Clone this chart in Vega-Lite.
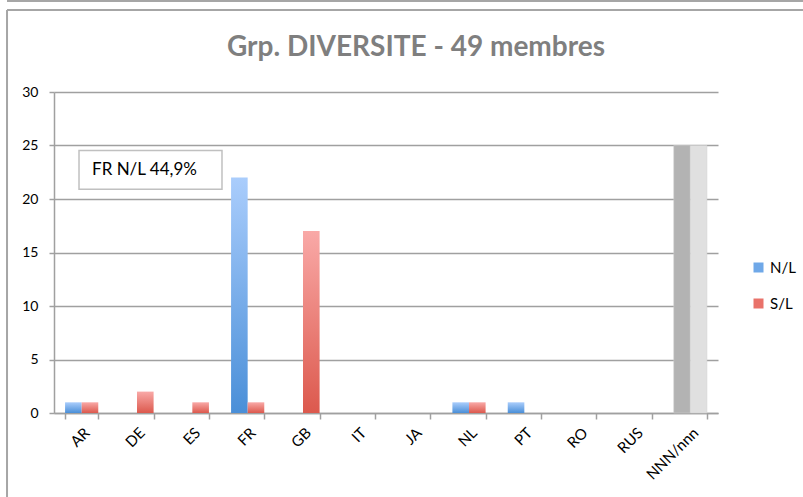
{
  "$schema": "https://vega.github.io/schema/vega-lite/v6.json",
  "width": 664,
  "height": 321,
  "autosize": {"type": "none"},
  "padding": {"left": 54, "top": 92, "right": 85, "bottom": 84},
  "background": "white",
  "title": {
    "text": "Grp. DIVERSITE - 49 membres",
    "font": "Lato",
    "fontSize": 28,
    "fontWeight": "bold",
    "color": "#7f7f7f",
    "anchor": "middle",
    "frame": "group",
    "baseline": "alphabetic",
    "offset": -84,
    "dx": 30
  },
  "config": {
    "font": "Lato",
    "view": {"stroke": null},
    "legend": {
      "symbolType": "square",
      "symbolSize": 100,
      "symbolOpacity": 1,
      "symbolStrokeWidth": 0,
      "labelFontSize": 15,
      "labelFont": "Lato",
      "labelColor": "#000000",
      "rowPadding": 20,
      "labelOffset": 4
    }
  },
  "datasets": {
    "bars": [
      {"cat": "AR", "serie": "N/L", "value": 1},
      {"cat": "AR", "serie": "S/L", "value": 1},
      {"cat": "DE", "serie": "N/L", "value": 0},
      {"cat": "DE", "serie": "S/L", "value": 2},
      {"cat": "ES", "serie": "N/L", "value": 0},
      {"cat": "ES", "serie": "S/L", "value": 1},
      {"cat": "FR", "serie": "N/L", "value": 22},
      {"cat": "FR", "serie": "S/L", "value": 1},
      {"cat": "GB", "serie": "N/L", "value": 0},
      {"cat": "GB", "serie": "S/L", "value": 17},
      {"cat": "IT", "serie": "N/L", "value": 0},
      {"cat": "IT", "serie": "S/L", "value": 0},
      {"cat": "JA", "serie": "N/L", "value": 0},
      {"cat": "JA", "serie": "S/L", "value": 0},
      {"cat": "NL", "serie": "N/L", "value": 1},
      {"cat": "NL", "serie": "S/L", "value": 1},
      {"cat": "PT", "serie": "N/L", "value": 1},
      {"cat": "PT", "serie": "S/L", "value": 0},
      {"cat": "RO", "serie": "N/L", "value": 0},
      {"cat": "RO", "serie": "S/L", "value": 0},
      {"cat": "RUS", "serie": "N/L", "value": 0},
      {"cat": "RUS", "serie": "S/L", "value": 0},
      {"cat": "NNN/nnn", "serie": "N/L", "value": 25},
      {"cat": "NNN/nnn", "serie": "S/L", "value": 25}
    ],
    "note": [
      {"x0": 0.452, "x1": 3.036, "y0": 20.9, "y1": 24.53, "tx": 0.687, "ty": 22.7, "label": "FR N/L 44,9%"}
    ],
    "frame": [
      {"x0": -0.849, "x1": 13.6, "y0": 38.5, "y1": 38.5},
      {"x0": -0.849, "x1": 13.6, "y0": 37.66, "y1": 37.66},
      {"x0": -0.849, "x1": -0.849, "y0": 37.66, "y1": -8}
    ]
  },
  "resolve": {"scale": {"x": "independent"}},
  "layer": [
    {
      "data": {"name": "bars"},
      "encoding": {
        "x": {
          "field": "cat",
          "type": "nominal",
          "sort": ["AR", "DE", "ES", "FR", "GB", "IT", "JA", "NL", "PT", "RO", "RUS", "NNN/nnn"],
          "scale": {"paddingInner": 0.4, "paddingOuter": 0.2},
          "axis": {
            "title": null,
            "labelAngle": -45,
            "labelFontSize": 15,
            "labelColor": "#000000",
            "labelPadding": 6,
            "tickBand": "extent",
            "tickSize": 6,
            "tickColor": "#a0a0a0",
            "domainColor": "#a0a0a0",
            "domainWidth": 1.5,
            "tickWidth": 1.5
          }
        },
        "xOffset": {
          "field": "serie",
          "type": "nominal",
          "scale": {"domain": ["N/L", "S/L"], "paddingInner": 0, "paddingOuter": 0}
        },
        "y": {
          "field": "value",
          "type": "quantitative",
          "scale": {"domain": [0, 30]},
          "axis": {
            "title": null,
            "values": [0, 5, 10, 15, 20, 25, 30],
            "labelFontSize": 14,
            "labelColor": "#000000",
            "labelPadding": 11,
            "tickSize": 5,
            "tickColor": "#a0a0a0",
            "tickWidth": 1.5,
            "domainColor": "#a0a0a0",
            "domainWidth": 1.5,
            "gridColor": "#a0a0a0",
            "gridWidth": 1.5
          }
        }
      },
      "layer": [
        {
          "transform": [{"filter": "datum.serie === 'N/L' && datum.cat !== 'NNN/nnn'"}],
          "mark": {
            "type": "bar",
            "color": {
              "gradient": "linear", "x1": 0, "y1": 0, "x2": 0, "y2": 1,
              "stops": [{"offset": 0, "color": "#aacdfc"}, {"offset": 1, "color": "#4a8fd8"}]
            }
          }
        },
        {
          "transform": [{"filter": "datum.serie === 'S/L' && datum.cat !== 'NNN/nnn'"}],
          "mark": {
            "type": "bar",
            "color": {
              "gradient": "linear", "x1": 0, "y1": 0, "x2": 0, "y2": 1,
              "stops": [{"offset": 0, "color": "#f9a9a7"}, {"offset": 1, "color": "#dc594d"}]
            }
          }
        },
        {
          "transform": [{"filter": "datum.cat === 'NNN/nnn'"}],
          "mark": {"type": "bar", "stroke": "#d0d0d0", "strokeWidth": 0.5},
          "encoding": {
            "color": {
              "condition": {"test": "datum.serie === 'N/L'", "value": "#b3b3b3"},
              "value": "#e0e0e0"
            }
          }
        },
        {
          "transform": [{"filter": "datum.cat !== 'NNN/nnn'"}],
          "mark": {"type": "square", "opacity": 0},
          "encoding": {
            "color": {
              "field": "serie",
              "type": "nominal",
              "scale": {"domain": ["N/L", "S/L"], "range": ["#6fa8e8", "#e9726a"]},
              "legend": {"title": null, "orient": "none", "legendX": 697, "legendY": 168}
            }
          }
        }
      ]
    },
    {
      "encoding": {},
      "layer": [
        {
          "data": {"name": "frame"},
          "mark": {"type": "rule", "color": "#a6a6a6", "strokeWidth": 2},
          "encoding": {
            "x": {"field": "x0", "type": "quantitative", "scale": {"domain": [0, 12], "nice": false, "zero": false}, "axis": null},
            "x2": {"field": "x1"},
            "y": {"field": "y0", "type": "quantitative"},
            "y2": {"field": "y1"}
          }
        },
        {
          "data": {"name": "note"},
          "mark": {"type": "rect", "fill": "white", "stroke": "#c0c0c0", "strokeWidth": 1.5},
          "encoding": {
            "x": {"field": "x0", "type": "quantitative", "scale": {"domain": [0, 12], "nice": false, "zero": false}, "axis": null},
            "x2": {"field": "x1"},
            "y": {"field": "y0", "type": "quantitative"},
            "y2": {"field": "y1"}
          }
        },
        {
          "data": {"name": "note"},
          "mark": {"type": "text", "align": "left", "baseline": "middle", "fontSize": 17, "font": "Lato", "color": "#000000"},
          "encoding": {
            "x": {"field": "tx", "type": "quantitative", "scale": {"domain": [0, 12], "nice": false, "zero": false}, "axis": null},
            "y": {"field": "ty", "type": "quantitative"},
            "text": {"field": "label"}
          }
        }
      ]
    }
  ]
}
